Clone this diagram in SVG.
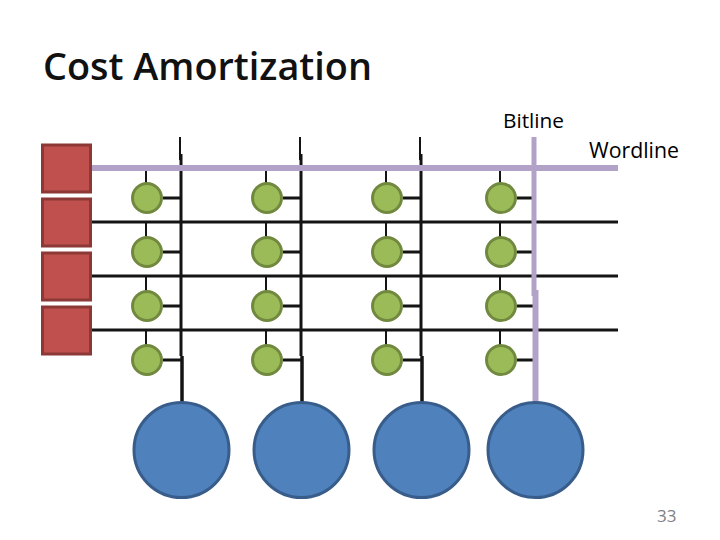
<svg xmlns="http://www.w3.org/2000/svg" width="720" height="540" viewBox="0 0 720 540">
<defs>
<style>
text{font-family:"Open Sans","Liberation Sans",sans-serif;fill:#000}
.w{stroke:#141414;stroke-width:3;fill:none}
.t{stroke:#141414;stroke-width:2;fill:none}
.p{stroke:#b2a2c7;fill:none}
.r{fill:#c0504d;stroke:#8c3836;stroke-width:3}
.g{fill:#9bbb59;stroke:#71893f;stroke-width:3}
.b{fill:#4f81bd;stroke:#385d8a;stroke-width:3}
</style>
</defs>
<rect width="720" height="540" fill="#fff"/>
<text x="43" y="80" font-size="37" font-weight="600" textLength="329" lengthAdjust="spacingAndGlyphs" style="fill:#111">Cost Amortization</text>
<text x="503" y="128" font-size="20.800">Bitline</text>
<text x="589" y="157.500" font-size="21.300">Wordline</text>
<text x="657" y="522" font-size="17" style="fill:#7f7f7f">33</text>
<g id="connectors">
<path class="t" d="M146 171V183M266 171V183M386 171V183M500 171V183M146 222V237M266 222V237M386 222V237M500 222V237M146 276V291M266 276V291M386 276V291M500 276V291M146 330V345M266 330V345M386 330V345M500 330V345"/>
<path class="w" d="M90 222H618M90 276H618M90 330H618"/>
<path class="w" d="M163 198H181M283 198H301M403 198H421M517 198H533M163 252H181M283 252H301M403 252H421M517 252H533M163 306H181M283 306H301M403 306H421M517 306H533M163 360H181M283 360H301M403 360H421M517 360H533"/>
<path class="t" d="M180 137V160M300 137V160M420 137V160"/>
<path class="w" d="M181 154V356M301 154V356M421 154V356"/>
<path class="w" d="M182 356V402M302 356V402M422 356V402" style="stroke-width:3.5"/>
<path class="p" stroke-width="6" d="M90 168H618"/>
<path class="p" stroke-width="5" d="M534 137V296"/>
<path class="p" stroke-width="6" d="M535.500 290V402"/>
</g>
<g id="driver-1"><rect class="r" x="42.500" y="145" width="48" height="47"/></g>
<g id="driver-2"><rect class="r" x="42.500" y="199" width="48" height="47"/></g>
<g id="driver-3"><rect class="r" x="42.500" y="253" width="48" height="47"/></g>
<g id="driver-4"><rect class="r" x="42.500" y="307" width="48" height="47"/></g>
<g id="cell-1-1"><circle class="g" cx="147" cy="198" r="14.500"/></g>
<g id="cell-1-2"><circle class="g" cx="267" cy="198" r="14.500"/></g>
<g id="cell-1-3"><circle class="g" cx="387" cy="198" r="14.500"/></g>
<g id="cell-1-4"><circle class="g" cx="501" cy="198" r="14.500"/></g>
<g id="cell-2-1"><circle class="g" cx="147" cy="252" r="14.500"/></g>
<g id="cell-2-2"><circle class="g" cx="267" cy="252" r="14.500"/></g>
<g id="cell-2-3"><circle class="g" cx="387" cy="252" r="14.500"/></g>
<g id="cell-2-4"><circle class="g" cx="501" cy="252" r="14.500"/></g>
<g id="cell-3-1"><circle class="g" cx="147" cy="306" r="14.500"/></g>
<g id="cell-3-2"><circle class="g" cx="267" cy="306" r="14.500"/></g>
<g id="cell-3-3"><circle class="g" cx="387" cy="306" r="14.500"/></g>
<g id="cell-3-4"><circle class="g" cx="501" cy="306" r="14.500"/></g>
<g id="cell-4-1"><circle class="g" cx="147" cy="360" r="14.500"/></g>
<g id="cell-4-2"><circle class="g" cx="267" cy="360" r="14.500"/></g>
<g id="cell-4-3"><circle class="g" cx="387" cy="360" r="14.500"/></g>
<g id="cell-4-4"><circle class="g" cx="501" cy="360" r="14.500"/></g>
<g id="sense-1"><circle class="b" cx="181.500" cy="450" r="47.500"/></g>
<g id="sense-2"><circle class="b" cx="301.500" cy="450" r="47.500"/></g>
<g id="sense-3"><circle class="b" cx="421.500" cy="450" r="47.500"/></g>
<g id="sense-4"><circle class="b" cx="535.500" cy="450" r="47.500"/></g>
</svg>
